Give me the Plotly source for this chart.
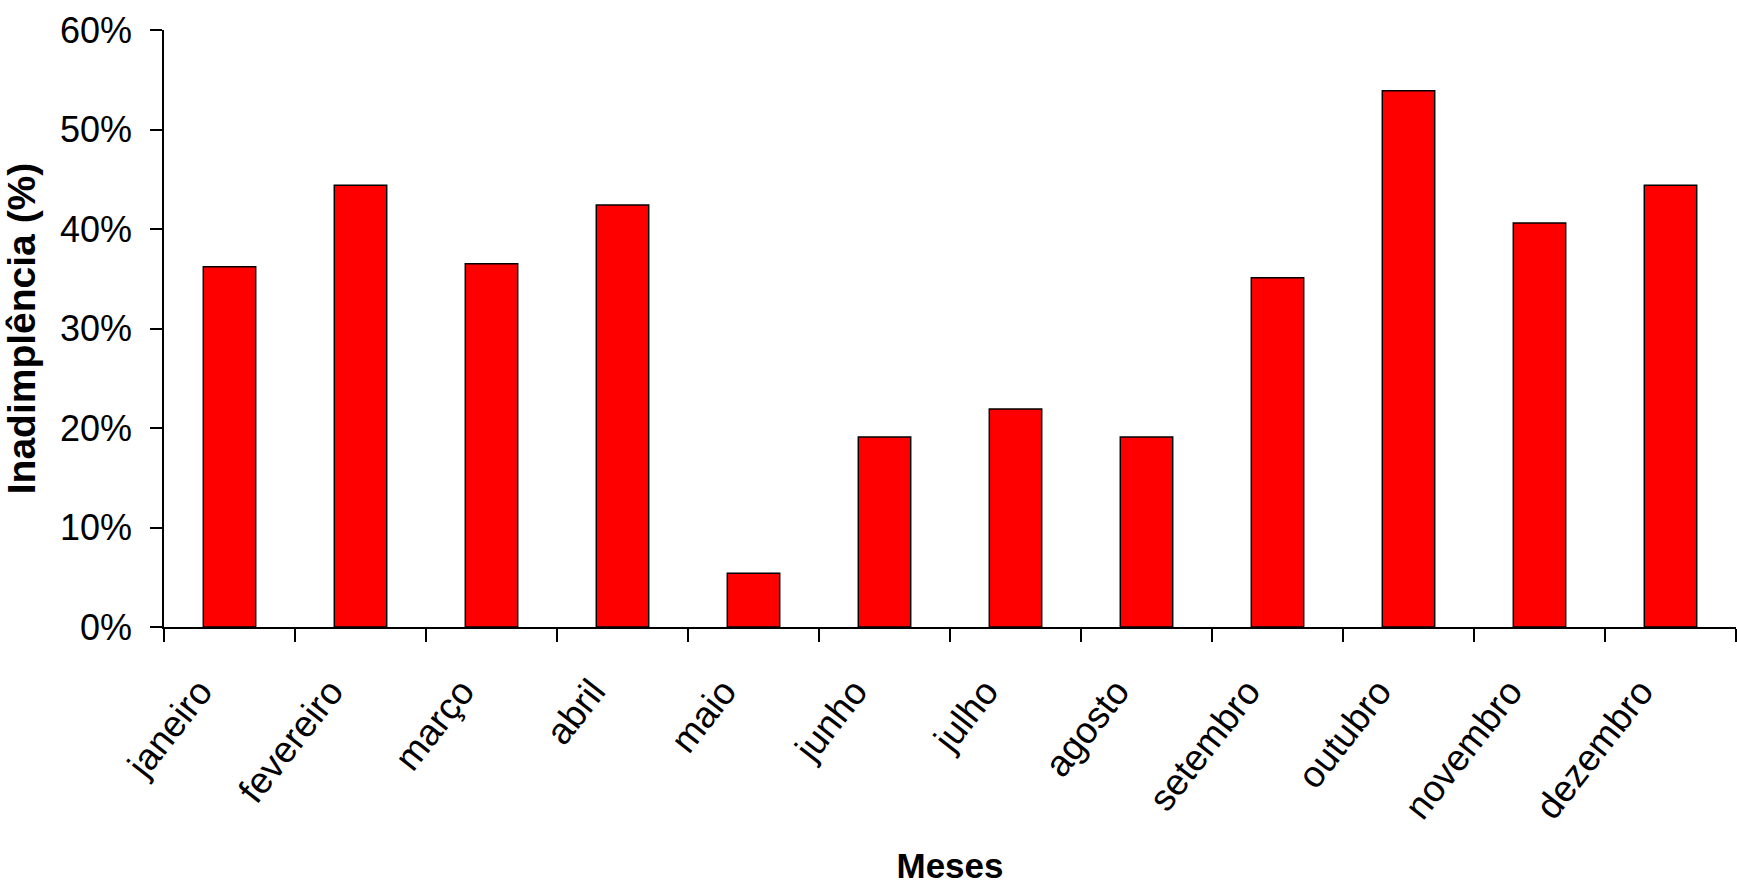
import plotly.graph_objects as go

meses = ["janeiro", "fevereiro", "março", "abril", "maio", "junho",
         "julho", "agosto", "setembro", "outubro", "novembro", "dezembro"]
inadimplencia = [0.362, 0.444, 0.365, 0.424, 0.054, 0.191,
                 0.219, 0.191, 0.351, 0.539, 0.406, 0.444]
y_ticks = [0, 0.1, 0.2, 0.3, 0.4, 0.5, 0.6]
y_tick_labels = ["0%", "10%", "20%", "30%", "40%", "50%", "60%"]

fig = go.Figure()
fig.add_trace(go.Bar(
    x=meses,
    y=inadimplencia,
    marker=dict(color="#FF0000", line=dict(color="#000000", width=1.5)),
    hoverinfo="x+y",
))

font_main = "Liberation Sans, Arial, sans-serif"

fig.update_layout(
    width=1737,
    height=885,
    paper_bgcolor="white",
    plot_bgcolor="white",
    margin=dict(l=164, r=1, t=30, b=258),
    bargap=0.6,
    showlegend=False,
    xaxis=dict(
        showgrid=False,
        showline=True,
        linecolor="black",
        linewidth=1.5,
        ticks="outside",
        tickson="boundaries",
        ticklen=13,
        tickcolor="black",
        tickwidth=1.5,
        tickangle=-52,
        tickfont=dict(family=font_main, size=37, color="black"),
        ticklabelstandoff=26,
        ticklabelshift=-30,
        title=dict(text="<b>Meses</b>",
                   font=dict(family=font_main, size=35, color="black"),
                   standoff=30),
        automargin=False,
    ),
    yaxis=dict(
        range=[0, 0.6],
        tickvals=y_ticks,
        ticktext=y_tick_labels,
        showgrid=False,
        zeroline=False,
        showline=True,
        linecolor="black",
        linewidth=1.5,
        ticks="outside",
        ticklen=12,
        tickcolor="black",
        tickwidth=1.5,
        tickfont=dict(family=font_main, size=36, color="black"),
        ticklabelstandoff=11,
        title=dict(text="<b>Inadimplência (%)</b>",
                   font=dict(family=font_main, size=39, color="black"),
                   standoff=13),
        automargin=False,
    ),
)

fig.write_html("out.html", config={"displayModeBar": False},
               post_script="document.body.style.margin='0';")
